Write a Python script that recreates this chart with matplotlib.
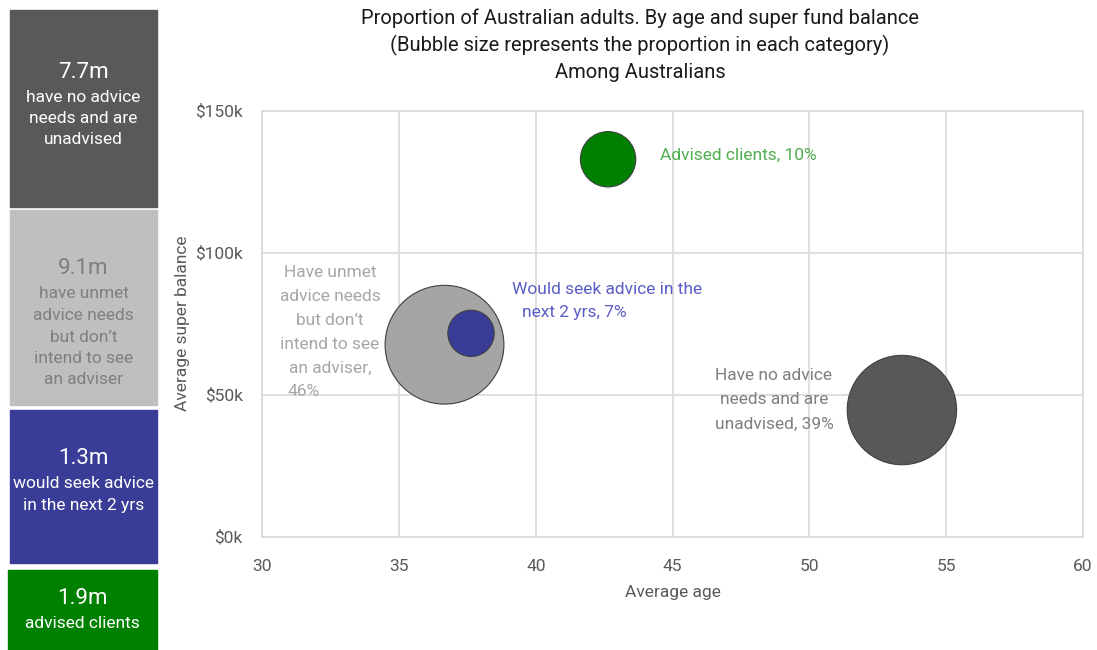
import matplotlib.pyplot as plt
from matplotlib.patches import Rectangle

plt.rcParams['font.family'] = ['Roboto', 'DejaVu Sans']

# bubble data
groups = ['Advised clients', 'Would seek advice', 'Unmet needs', 'No advice needs']
avg_age = [42.64, 37.63, 36.66, 53.38]
avg_balance = [132.9, 71.6, 67.6, 44.6]  # $k
proportion = [10, 7, 46, 39]
bubble_colors = ['#008000', '#383c96', '#a5a5a5', '#585858']

# left side panel
panel_values = ['7.7m', '9.1m', '1.3m', '1.9m']
panel_texts = ['have no advice\nneeds and are\nunadvised',
               'have unmet\nadvice needs\nbut don\u2019t\nintend to see\nan adviser',
               'would seek advice\nin the next 2 yrs',
               'advised clients']
panel_colors = ['#595959', '#bfbfbf', '#3a3d97', '#008000']
panel_text_colors = ['white', '#7f7f7f', 'white', 'white']

x_ticks = [30, 35, 40, 45, 50, 55, 60]
y_ticks = [0, 50, 100, 150]


def main():
    fig = plt.figure(figsize=(10.97, 6.5), dpi=100)
    W, H = 1097, 650

    # side boxes, in pixel coords
    boxes = [(10, 10, 147, 197), (10, 210, 147, 195), (10, 410, 147, 153), (8, 570, 149, 80)]
    for i, (bx, by, bw, bh) in enumerate(boxes):
        fig.patches.append(Rectangle((bx / W, 1 - (by + bh) / H), bw / W, bh / H,
                                     transform=fig.transFigure, color=panel_colors[i], zorder=0))
    val_y = [73, 269, 459, 598]
    txt_y = [97, 294, 484, 623]
    for i in range(4):
        cx = (boxes[i][0] + boxes[i][2] / 2) / W
        fig.text(cx, 1 - val_y[i] / H, panel_values[i], color=panel_text_colors[i],
                 ha='center', va='center', fontsize=16)
        for k, line in enumerate(panel_texts[i].split('\n')):
            fig.text(cx, 1 - (txt_y[i] + k * 21.5) / H, line, color=panel_text_colors[i],
                     ha='center', va='center', fontsize=12.5)

    ax = fig.add_axes([262.3 / W, 1 - 536.7 / H, (1083 - 262.3) / W, (536.7 - 110.7) / H])
    # biggest bubbles first so small ones stay visible
    order = sorted(range(len(proportion)), key=lambda j: -proportion[j])
    ax.scatter([avg_age[j] for j in order], [avg_balance[j] for j in order],
               s=[proportion[j] * 159 for j in order], c=[bubble_colors[j] for j in order],
               edgecolors='#404040', linewidths=0.8, zorder=3)

    ax.set_xlim(30, 60)
    ax.set_ylim(0, 150)
    ax.set_xticks(x_ticks)
    ax.set_yticks(y_ticks)
    ax.set_yticklabels(['$' + str(v) + 'k' for v in y_ticks])
    ax.grid(True, color='#d9d9d9', lw=1.2)
    ax.set_axisbelow(True)
    for s in ax.spines.values():
        s.set_color('#d9d9d9')
        s.set_linewidth(1.2)
    ax.tick_params(length=0, labelsize=12.5, colors='#595959')
    ax.tick_params(axis='x', pad=16)
    ax.tick_params(axis='y', pad=14)
    ax.set_xlabel('Average age', fontsize=12.5, color='#595959', labelpad=8)
    ax.set_ylabel('Average super balance', fontsize=12.5, color='#595959', labelpad=4)

    # labels (pixel -> data helpers)
    def dx(px):
        return 30 + (px - 262.3) / 27.357

    def dy(py):
        return (536.7 - py) / 2.84

    ax.text(dx(660), dy(155), 'Advised clients, 10%', color='#4fae4f', fontsize=12.5,
            ha='left', va='center', zorder=4)
    ax.text(dx(607), dy(290), 'Would seek advice in the', color='#5a5ec4',
            fontsize=12.5, ha='center', va='center', zorder=4)
    ax.text(dx(522), dy(313), 'next 2 yrs, 7%', color='#5a5ec4',
            fontsize=12.5, ha='left', va='center', zorder=4)
    unmet = ['Have unmet', 'advice needs', 'but don\u2019t', 'intend to see', 'an adviser,']
    for k, line in enumerate(unmet):
        ax.text(dx(330), dy(273 + k * 23.8), line, color='#a6a6a6', fontsize=12.5,
                ha='center', va='center', zorder=4)
    ax.text(dx(288), dy(392), '46%', color='#a6a6a6', fontsize=12.5, ha='left', va='center', zorder=4)
    noadv = ['Have no advice', 'needs and are', 'unadvised, 39%']
    for k, line in enumerate(noadv):
        ax.text(dx(774), dy(376 + k * 24), line, color='#7f7f7f', fontsize=12.5,
                ha='center', va='center', zorder=4)

    title = ['Proportion of Australian adults. By age and super fund balance',
             '(Bubble size represents the proportion in each category)',
             'Among Australians']
    for k, line in enumerate(title):
        fig.text(640 / W, 1 - (18 + k * 27.5) / H, line, ha='center', va='center',
                 fontsize=14.5, color='#1a1a1a')

    fig.savefig('out.png', dpi=100)


main()
